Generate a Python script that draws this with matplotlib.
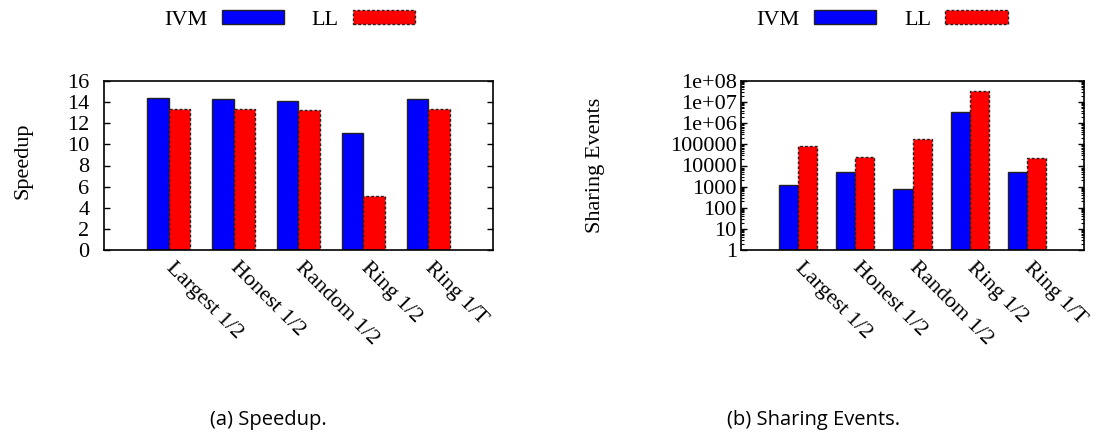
import matplotlib
matplotlib.use("Agg")
import matplotlib.pyplot as plt
import numpy as np

categories = ["Largest 1/2", "Honest 1/2", "Random 1/2", "Ring 1/2", "Ring 1/T"]
series_names = ["IVM", "LL"]
speedup_ivm = [14.42, 14.27, 14.08, 11.10, 14.33]
speedup_ll = [13.35, 13.35, 13.29, 5.11, 13.35]
sharing_ivm = [1170, 5000, 780, 3.5e6, 4800]
sharing_ll = [85000, 25500, 182000, 3.4e7, 22000]
speedup_ticks = [0, 2, 4, 6, 8, 10, 12, 14, 16]
sharing_ticks = [1, 10, 100, 1000, 10000, 100000, 1e6, 1e7, 1e8]
sharing_ticklabels = ["1", "10", "100", "1000", "10000", "100000", "1e+06", "1e+07", "1e+08"]

SERIF = "Liberation Serif"
FS = 16

fig = plt.figure(figsize=(10.96, 4.32), dpi=100)
W, H = 1096, 432

def make_axes(x0, x1, y_top=81, y_bot=250):
    return fig.add_axes([x0 / W, 1 - y_bot / H, (x1 - x0) / W, (y_bot - y_top) / H])

axA = make_axes(104, 493)
axB = make_axes(741, 1084)

bw = 1 / 3
x = np.arange(len(categories))

def draw(ax, ivm, ll, ypad):
    b1 = ax.bar(x - bw / 2, ivm, width=bw, color="#0000ff", edgecolor="#222222",
                linewidth=1.0, label=series_names[0], zorder=2)
    b2 = ax.bar(x + bw / 2, ll, width=bw, color="#ff0000", edgecolor="#222222",
                linewidth=1.0, linestyle=(0, (2, 1.5)), label=series_names[1], zorder=2)
    ax.set_xlim(-1, len(categories))
    ax.set_xticks(x)
    ax.set_xticklabels(categories, rotation=-45, ha="left", va="center",
                       rotation_mode="anchor", fontsize=FS, family=SERIF)
    ax.tick_params(axis="x", length=0, pad=11)
    ax.tick_params(axis="y", which="major", direction="in", length=4, width=1,
                   right=True, left=True, pad=ypad, labelsize=FS)
    ax.tick_params(axis="y", which="minor", direction="in", length=2, width=0.8,
                   right=True, left=True)
    for s in ax.spines.values():
        s.set_linewidth(1.2)
        s.set_color("black")
    return b1, b2

h = draw(axA, speedup_ivm, speedup_ll, ypad=10.5)
axA.set_ylim(0, 16)
axA.set_yticks(speedup_ticks)
axA.set_yticklabels([str(t) for t in speedup_ticks], family=SERIF, fontsize=FS)
axA.set_ylabel("Speedup", family=SERIF, fontsize=FS)
axA.yaxis.set_label_coords((33 - 104) / 389, 0.53)

axB.set_yscale("log")
draw(axB, sharing_ivm, sharing_ll, ypad=3)
axB.set_ylim(1, 1e8)
axB.set_yticks(sharing_ticks)
axB.set_yticklabels(sharing_ticklabels, family=SERIF, fontsize=FS)
axB.yaxis.set_minor_locator(matplotlib.ticker.LogLocator(base=10, subs=np.arange(2, 10), numticks=20))
axB.yaxis.set_minor_formatter(matplotlib.ticker.NullFormatter())
axB.set_ylabel("Sharing Events", family=SERIF, fontsize=FS)
axB.yaxis.set_label_coords((605 - 741) / 343, 0.5)

for cx in (289.5 / W, 882 / W):
    fig.legend(h, series_names, loc="center", bbox_to_anchor=(cx, 1 - 20 / H),
               ncol=2, frameon=False, markerfirst=False, handlelength=2.8,
               handleheight=0.55, handletextpad=0.65, columnspacing=1.25,
               prop={"family": SERIF, "size": FS}, borderpad=0, borderaxespad=0)

fig.text(268 / W, 1 - 420 / H, "(a) Speedup.", ha="center", va="center",
         family="Open Sans", fontsize=14.5)
fig.text(814 / W, 1 - 420 / H, "(b) Sharing Events.", ha="center", va="center",
         family="Open Sans", fontsize=14.5)

fig.savefig("out.png", dpi=100)
